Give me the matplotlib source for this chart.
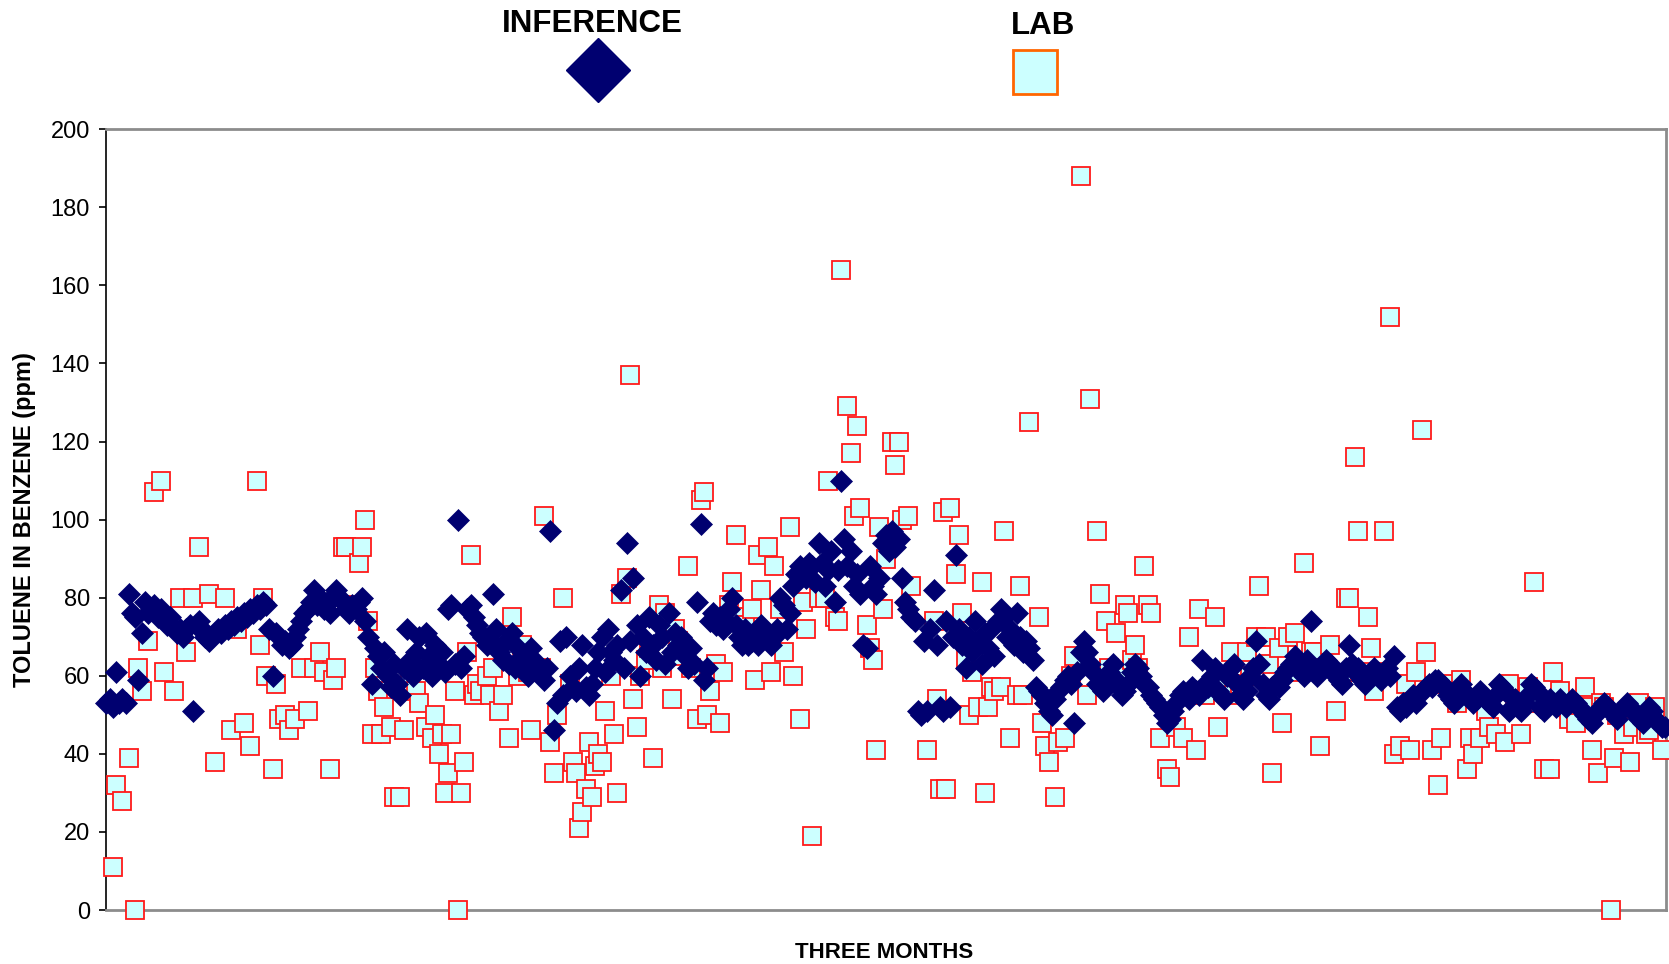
import numpy as np
import matplotlib
matplotlib.use("Agg")
import matplotlib.pyplot as plt
from matplotlib.lines import Line2D

plt.rcParams['font.family'] = ['Liberation Sans', 'DejaVu Sans']

# inference, one value per sample (ppm)
inference = [
    53, 54, 52, 61, 53, 54, 53, 81, 76, 75,
    59, 71, 79, 76, 77, 78, 75, 77, 74, 73,
    75, 72, 71, 72, 70, 72, 73, 51, 73, 74,
    72, 70, 69, 70, 71, 72, 71, 73, 72, 74,
    73, 75, 74, 76, 75, 77, 76, 78, 77, 79,
    78, 72, 60, 71, 70, 68, 69, 67, 68, 70,
    72, 74, 76, 77, 79, 82, 78, 80, 77, 79,
    76, 80, 82, 80, 79, 77, 76, 78, 77, 79,
    80, 74, 70,
    58, 67, 65, 62, 66, 60, 57, 63, 58, 55,
    62, 72, 64, 60, 66, 70, 62, 71, 65, 60,
    68, 63, 66, 61, 77, 78, 63, 100, 62, 65,
    77, 78, 75, 73, 71, 70, 68, 69, 81, 72,
    66, 64, 69, 63, 71, 62, 67, 65, 61, 60,
    67, 64, 62, 61, 59, 62, 97, 46, 53, 69,
    55, 70, 60, 57, 56, 62, 68, 57, 55, 58,
    62, 66, 70, 61, 72, 66, 64, 68, 82, 62,
    94, 69, 85, 73, 60, 70, 66, 75, 68, 64,
    73, 70, 63, 76, 66, 71, 68, 70, 65, 62,
    67, 63, 79, 99, 59, 62, 74, 76, 73, 75,
    72, 74, 77, 80, 73, 70, 68, 72, 68, 69,
    71, 68, 73, 72, 69, 68, 70, 72, 80, 78,
    72, 76, 83, 86, 88, 87, 85, 89, 88, 84,
    94, 89, 83, 87, 92, 79, 87, 110, 95, 88,
    92, 83, 86, 81, 68, 67, 88, 83, 81, 85,
    94, 96, 92, 97, 93, 95, 85, 79, 77,
    75, 74, 51, 50, 69, 51, 72, 82, 68, 52,
    51, 74, 52, 70, 91, 72, 68, 62, 70, 66,
    74, 68, 63, 71, 67, 72, 65, 74, 77, 75,
    70, 72, 68, 76, 70, 66, 69, 67, 64, 57,
    56, 55, 53, 51, 50, 54, 56, 57, 59, 60,
    58, 48, 61, 66, 69, 66, 63, 61, 58, 57,
    56, 59, 61, 63, 59, 57, 55, 56, 58, 61,
    63, 62, 60, 58, 57, 55, 54, 53, 52, 50,
    48, 49, 51, 53, 55, 56, 55, 54, 57, 56,
    55, 64, 58, 57, 60, 62, 56, 55, 54, 60,
    62, 63, 58, 55, 54, 56, 60, 62, 69, 63,
    58, 55, 54, 57, 58, 57, 59, 61, 62, 63,
    65, 63, 61, 60, 64, 74, 61, 60, 62, 63,
    64, 63, 61, 60, 59, 58, 62, 68, 63, 61,
    62, 59, 58, 60, 61, 62, 60, 59, 61, 62,
    60, 65, 52, 51, 53, 52, 54, 55, 53, 55,
    56, 57, 58, 57, 59, 59, 58, 57, 55, 54,
    53, 56, 58, 56, 55, 54, 53, 54, 56, 55,
    54, 53, 52, 55, 58, 57, 56, 51, 52, 54,
    52, 51, 53, 55, 58, 57, 56, 52, 51, 53,
    54, 53, 52, 54, 53, 52, 53, 54, 53, 52,
    51, 50, 49, 48, 50, 51, 52, 53, 52, 51,
    50, 49, 51, 52, 53, 52, 51, 50, 49, 48,
    50, 52, 51, 49, 48, 47, 47,
]

# lab results: sample number and ppm
lab_sample = [
    2, 3, 5, 7, 9, 10, 11, 13, 15, 17,
    18, 21, 23, 25, 27, 29, 32, 34, 37, 39,
    41, 43, 45, 47, 48, 49, 50, 52, 53, 54,
    56, 57, 59, 61, 63, 65, 67, 68, 70, 71,
    72, 74, 75, 77, 79, 80, 81, 82, 83, 84,
    85, 86, 87, 89, 90, 92, 93, 95, 97, 98,
    100, 102, 103, 104, 105, 106, 107, 108, 109, 110,
    111, 112, 113, 114, 115, 116, 117, 119, 120, 121,
    123, 124, 126, 127, 129, 130, 132, 133, 134, 136,
    137, 139, 140, 141, 143, 145, 146, 147, 148, 149,
    150, 151, 152, 153, 154, 155, 156, 158, 159, 160,
    161, 163, 164, 165, 166, 167, 169, 170, 171, 173,
    174, 175, 177, 178, 179, 180, 182, 183, 185, 186,
    187, 188, 189, 191, 192, 193, 195, 196, 197, 198,
    200, 202, 203, 204, 205, 207, 208, 209, 211, 212,
    214, 215, 217, 218, 219, 221, 223, 225, 226, 228,
    229, 230, 232, 233, 234, 235, 236, 238, 239, 240,
    241, 242, 243, 244, 246, 247, 248, 249, 251, 252,
    257, 259, 260, 261, 262, 263, 264, 266, 267, 268,
    269, 270, 271, 273, 274, 275, 276, 277, 278, 280,
    281, 283, 285, 286, 287, 289, 292, 293, 294, 295,
    297, 298, 300, 302, 303, 305, 307, 308, 310, 311,
    313, 314, 316, 317, 319, 320, 321, 322, 323, 325,
    326, 327, 330, 332, 333, 335, 337, 339, 341, 342,
    344, 347, 348, 350, 352, 353, 355, 357, 358, 360,
    361, 363, 364, 365, 367, 368, 370, 372, 373, 375,
    377, 378, 380, 382, 383, 385, 387, 388, 389, 391,
    392, 393, 395, 396, 397, 399, 400, 402, 403, 405,
    407, 408, 410, 412, 413, 415, 417, 418, 419, 421,
    423, 424, 426, 427, 428, 430, 432, 433, 435, 437,
    438, 439, 441, 443, 445, 447, 449, 450, 452, 453,
    455, 457, 458, 460, 463, 464, 465, 467, 468, 469,
    471, 472, 473, 475, 477, 478, 480, 482, 483, 485,
    487,
]
lab_ppm = [
    11, 32, 28, 39, 0, 62, 56, 69, 107, 110,
    61, 56, 80, 66, 80, 93, 81, 38, 80, 46,
    72, 48, 42, 110, 68, 80, 60, 36, 58, 49,
    50, 46, 49, 62, 51, 62, 66, 61, 36, 59,
    62, 93, 93, 78, 89, 93, 100, 74, 45, 62,
    56, 45, 52, 47, 29, 29, 46, 60, 56, 53,
    47, 44, 50, 40, 45, 30, 35, 45, 56, 0,
    30, 38, 66, 91, 55, 58, 56, 60, 55, 62,
    51, 55, 44, 75, 60, 68, 61, 46, 61, 62,
    101, 43, 35, 50, 80, 58, 38, 35, 21, 25,
    31, 43, 29, 37, 40, 38, 51, 60, 45, 30,
    81, 85, 137, 54, 47, 60, 64, 67, 39, 78,
    62, 76, 54, 72, 69, 65, 88, 62, 49, 105,
    107, 50, 56, 63, 48, 61, 78, 84, 96, 75,
    73, 77, 59, 91, 82, 93, 61, 88, 77, 66,
    98, 60, 49, 79, 72, 19, 80, 80, 110, 75,
    74, 164, 129, 117, 101, 124, 103, 73, 67, 64,
    41, 98, 77, 90, 120, 114, 120, 100, 101, 83,
    41, 74, 54, 31, 102, 31, 103, 86, 96, 76,
    64, 50, 61, 52, 84, 30, 52, 57, 56, 57,
    97, 44, 55, 83, 55, 125, 75, 48, 42, 38,
    29, 43, 44, 60, 65, 188, 55, 131, 97, 81,
    74, 62, 71, 61, 78, 76, 64, 68, 62, 88,
    78, 76, 44, 36, 34, 47, 44, 70, 41, 77,
    55, 75, 47, 57, 66, 55, 58, 66, 60, 70,
    83, 70, 63, 35, 67, 48, 70, 71, 61, 89,
    66, 66, 42, 62, 68, 51, 60, 80, 80, 116,
    97, 61, 75, 67, 56, 61, 97, 152, 40, 42,
    58, 41, 61, 123, 66, 41, 32, 44, 58, 56,
    53, 59, 36, 44, 40, 44, 51, 47, 45, 56,
    43, 58, 54, 45, 57, 84, 53, 36, 36, 61,
    56, 52, 49, 48, 57, 52, 41, 35, 53, 52,
    0, 39, 50, 45, 38, 47, 53, 45, 46, 52,
    41,
]

y_ticks = np.arange(0, 201, 20)

NAVY = '#000070'
CYAN = '#CCFFFF'

fig = plt.figure(figsize=(16.69, 9.64), dpi=100)
ax = fig.add_axes([0.0638, 0.056, 0.9344, 0.810])

samples = np.arange(len(inference))
ax.plot(lab_sample, lab_ppm, ls='none', marker='s', ms=13.5, mfc=CYAN,
        mec='#FF1a1a', mew=1.3, clip_on=False, zorder=3)
ax.plot(samples, inference, ls='none', marker='D', ms=11.3, mfc=NAVY,
        mec=NAVY, mew=0.5, clip_on=False, zorder=4)

ax.set_xlim(0, 488.3)
ax.set_ylim(0, 200)
ax.set_yticks(y_ticks)
ax.set_xticks([])
ax.tick_params(axis='y', direction='out', length=5, width=1.2, pad=7,
               labelsize=17, colors='black')

for side in ['top', 'right', 'bottom']:
    ax.spines[side].set_color('#8c8c8c')
    ax.spines[side].set_linewidth(2)
ax.spines['left'].set_color('black')
ax.spines['left'].set_linewidth(1.2)

ax.set_ylabel('TOLUENE IN BENZENE (ppm)', fontsize=17, fontweight='bold')
ax.yaxis.set_label_coords(-0.0455, 0.5)
ax.set_xlabel('THREE MONTHS', fontsize=16, fontweight='bold')
ax.xaxis.set_label_coords(0.4986, -0.041)

# legend, label above marker
fig.text(0.3547, 0.975, 'INFERENCE', ha='center', va='center',
         fontsize=22.5, fontweight='bold')
fig.add_artist(Line2D([0.3583], [0.9274], transform=fig.transFigure, ls='none',
                      marker='D', ms=33, mfc=NAVY, mec=NAVY))
fig.text(0.625, 0.973, 'LAB', ha='center', va='center',
         fontsize=22.5, fontweight='bold')
fig.add_artist(Line2D([0.6201], [0.9253], transform=fig.transFigure, ls='none',
                      marker='s', ms=31, mfc=CYAN, mec='#FF6600', mew=2))

fig.savefig('out.png', dpi=100)
